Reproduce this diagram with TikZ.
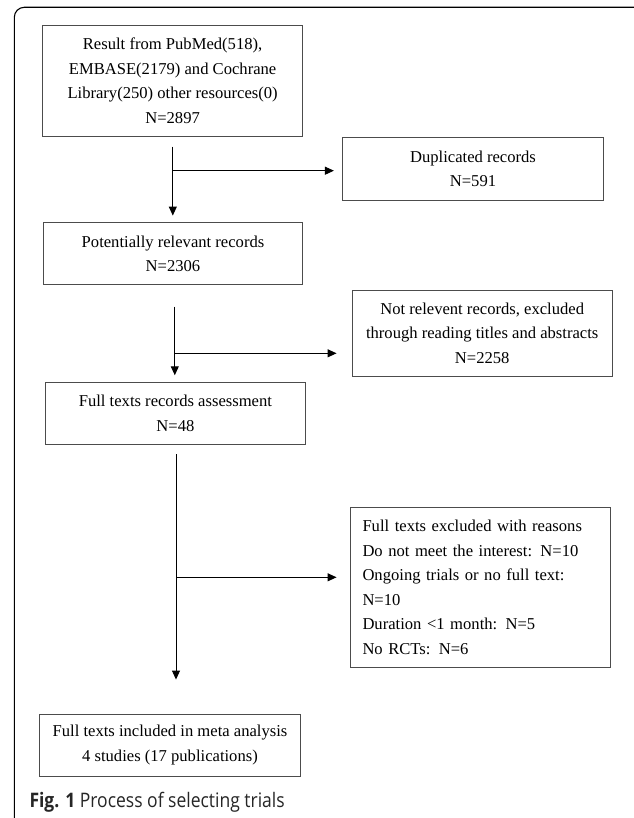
\documentclass[tikz,border=0pt]{standalone}
\usepackage{fontspec}
\setmainfont{Liberation Serif}
\newfontfamily\capfont{Open Sans}[FakeStretch=0.875]
\usetikzlibrary{arrows.meta}
\begin{document}
\begin{tikzpicture}[x=1pt,y=-1pt,
  box/.style={draw=black!70, line width=0.9pt, rectangle, inner sep=0pt,
    minimum width=260.4pt, align=center,
    font=\fontsize{16.6}{24.6}\selectfont},
  arr/.style={draw=black, line width=1pt, -{Triangle[length=9pt,width=8pt]}},
]
\useasboundingbox (0,0) rectangle (633,818);
\fill[white] (0,0) rectangle (633,818);
\draw[line width=1.1pt, rounded corners=10pt] (640,7.3) -- (14.3,7.3) -- (14.3,830) -- (640,830);

\node[box, minimum height=111.7pt] (b1) at (172.6,80.85)
  {Result from PubMed(518),\\EMBASE(2179) and Cochrane\\Library(250) other resources(0)\\N=2897};
\node[box, minimum width=261.3pt, minimum height=62.5pt] (b2) at (473,168.75)
  {Duplicated records\\N=591};
\node[box, minimum width=259.6pt, minimum height=62pt] (b3) at (173,253.7)
  {Potentially relevant records\\N=2306};
\node[box, minimum height=86.7pt] (b4) at (482.2,333.3)
  {Not relevent records, excluded\\through reading titles and abstracts\\N=2258};
\node[box, minimum height=61.6pt] (b5) at (175.4,413.5)
  {Full texts records assessment\\N=48};
\node[box, minimum height=160pt, align=left, text width=236.2pt, inner xsep=12.1pt] (b6) at (480.6,587.3)
  {Full texts excluded with reasons\\Do not meet the interest: N=10\\Ongoing trials or no full text:\\N=10\\Duration <1 month: N=5\\No RCTs: N=6};
\node[box, minimum width=260.8pt, minimum height=62pt] (b7) at (170,745)
  {Full texts included in meta analysis\\4 studies (17 publications)};

\coordinate (s1) at (172.8,146.7);
\coordinate (j1) at (172.8,170.7);
\draw[arr, shorten >=6.7pt] (s1) -- (s1 |- b3.north);
\draw[arr, shorten >=8pt] (j1) -- (j1 -| b2.west);

\coordinate (s2) at (174.8,306.7);
\coordinate (j2) at (174.8,353.3);
\draw[arr, shorten >=7pt] (s2) -- (s2 |- b5.north);
\draw[arr, shorten >=15pt] (j2) -- (j2 -| b4.west);

\coordinate (s3) at (176,454);
\coordinate (j3) at (176,577.3);
\draw[arr, shorten >=34pt] (s3) -- (s3 |- b7.north);
\draw[arr, shorten >=13.4pt] (j3) -- (j3 -| b6.west);

\node[anchor=base west, inner sep=0pt, text=black!85, font=\capfont\fontsize{20}{24}\selectfont] (cap) at (29.3,807.3)
  {\textbf{Fig. 1} Process of selecting trials};
\end{tikzpicture}
\end{document}
